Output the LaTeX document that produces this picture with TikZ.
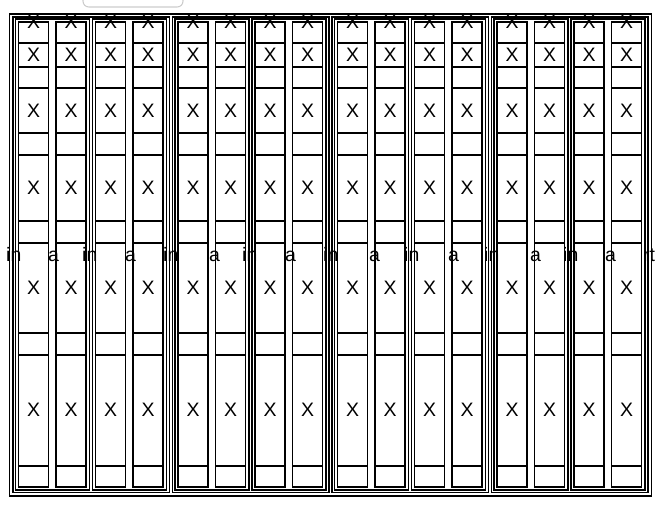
\documentclass[tikz,border=0pt]{standalone}
\usepackage{fontspec}
\setmainfont{Liberation Sans}

\begin{document}
\begin{tikzpicture}[x=0.03cm,y=-0.03cm]
        \tikzstyle{frame}=[draw=black,line width=1.5pt]
        \tikzstyle{cell}=[font=\fontsize{16.6}{18}\selectfont,inner sep=0pt]
        \tikzstyle{frag}=[font=\fontsize{16.6}{18}\selectfont,inner sep=0pt,anchor=base west]
        \tikzstyle{button}=[draw=black!20,line width=0.9pt,rounded corners=5pt]

        \useasboundingbox (0,0) rectangle (666,508);

        \draw[button] (83,-10) rectangle (183,7); %button, cut at the top

        % bits of text between the columns
        \foreach \x/\t [count=\i] in {6/in,48/a,82/in,125/a,163/in,209/a,242/in,285/a,323/in,369/a,404/in,448/a,484/in,530/a,563/in,605/a,643/rt}
            \node[frag] (frag\i) at (\x,262) {\t};

        \draw[frame] (9.5,13.7) rectangle (651.5,495.7); %outer
        \foreach \g in {0,...,3}{
            \pgfmathsetmacro{\gl}{13+159.5*\g}
            \draw[frame] (\gl,16.7) rectangle ++(156.5,475.8); %group
            \foreach \s in {0,1}{
                \pgfmathsetmacro{\sl}{\gl+2.5+77*\s}
                \draw[frame] (\sl,19.2) rectangle ++(74,470.8); %pair
                \foreach \c in {0,1}{
                    \pgfmathsetmacro{\cl}{\sl+3+37.5*\c}
                    \draw[frame] (\cl,22) rectangle ++(30,465.3); %column
                    \foreach \y in {43.3,66.7,88.3,132.7,154.7,221,243,333,355,465.7}
                        \draw[frame] (\cl,\y) -- ++(30,0);
                    \foreach \y [count=\r] in {22,55,110.5,187.8,288,410.3}
                        \node[cell] (x\g\s\c\r) at (\cl+15,\y) {X};
                }
            }
        }
\end{tikzpicture}
\end{document}
